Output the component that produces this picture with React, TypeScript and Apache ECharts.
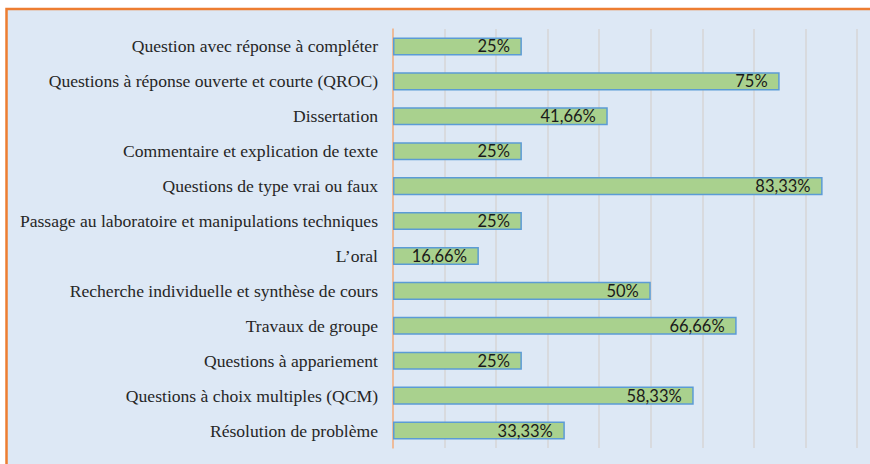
import React, { useEffect, useRef } from "react";
import * as echarts from "echarts";

const categories = [
  "Question avec réponse à compléter",
  "Questions à réponse ouverte et courte (QROC)",
  "Dissertation",
  "Commentaire et explication de texte",
  "Questions de type vrai ou faux",
  "Passage au laboratoire et manipulations techniques",
  "L’oral",
  "Recherche individuelle et synthèse de cours",
  "Travaux de groupe",
  "Questions à appariement",
  "Questions à choix multiples (QCM)",
  "Résolution de problème",
];

const values = [25, 75, 41.66, 25, 83.33, 25, 16.66, 50, 66.66, 25, 58.33, 33.33];

const axisMin = 0;
const axisMax = 90;
const axisInterval = 10;

export default function App() {
  const ref = useRef<HTMLDivElement>(null);
  useEffect(() => {
    if (!ref.current) return;
    const chart = echarts.init(ref.current, null, { renderer: "svg" });
    chart.setOption({
      animation: false,
      backgroundColor: "#ffffff",
      graphic: [
        {
          type: "rect",
          z: -10,
          silent: true,
          shape: { x: 6.5, y: 9, width: 900, height: 500 },
          style: { fill: "#dde8f5", stroke: "#ed7d31", lineWidth: 2.5 },
        },
      ],
      grid: { left: 393, right: 13, top: 29, bottom: 16, containLabel: false },
      xAxis: {
        type: "value",
        min: axisMin,
        max: axisMax,
        interval: axisInterval,
        axisLabel: { show: false },
        axisLine: { show: false },
        axisTick: { show: false },
        splitLine: { show: true, lineStyle: { color: "#d6d6d6", width: 1.5 } },
      },
      yAxis: {
        type: "category",
        inverse: true,
        data: categories,
        axisTick: { show: false },
        axisLine: { show: true, lineStyle: { color: "#f4b183", width: 1.5 } },
        axisLabel: {
          margin: 15,
          color: "#262626",
          fontFamily: "Liberation Serif, DejaVu Serif, serif",
          fontSize: 17.6,
        },
      },
      series: [
        {
          type: "bar",
          data: values,
          barCategoryGap: "48%",
          itemStyle: { color: "#a9d18e", borderColor: "#5b9bd5", borderWidth: 1.5 },
          label: {
            show: true,
            position: "insideRight",
            distance: 12,
            color: "#1a1a1a",
            fontFamily: "Lato, Open Sans, sans-serif",
            fontSize: 16.5,
            formatter: (p: any) => String(p.value).replace(".", ",") + "%",
          },
        },
      ],
    });
    return () => chart.dispose();
  }, []);
  return (
    <div
      ref={ref}
      style={{ position: "absolute", left: 0, top: 0, width: 870, height: 464 }}
    />
  );
}
